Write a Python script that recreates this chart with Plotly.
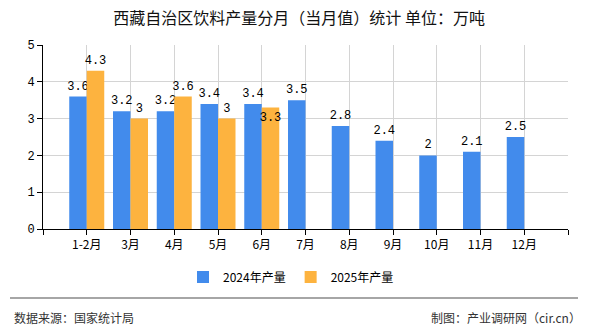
import plotly.graph_objects as go

categories = ["1-2月", "3月", "4月", "5月", "6月", "7月", "8月", "9月", "10月", "11月", "12月"]
values_2024 = [3.6, 3.2, 3.2, 3.4, 3.4, 3.5, 2.8, 2.4, 2, 2.1, 2.5]
values_2025 = [4.3, 3, 3.6, 3, 3.3, None, None, None, None, None, None]
series_names = ["2024年产量", "2025年产量"]
y_ticks = [0, 1, 2, 3, 4, 5]

BLUE = "#428bec"
ORANGE = "#fdb33f"
CJK = "Noto Sans CJK SC"
MONO = "Liberation Mono"

xpos = list(range(len(categories)))

def fmt(v):
    if v is None:
        return ""
    return ("%g" % v)

lab_font = dict(family=MONO, size=12, color="#000")

fig = go.Figure()
fig.add_trace(go.Bar(
    x=xpos, y=values_2024, name=series_names[0], marker=dict(color=BLUE, line=dict(width=0)),
    text=[fmt(v) for v in values_2024], textposition="outside", cliponaxis=False,
    textangle=0, constraintext="none",
    textfont=lab_font, outsidetextfont=lab_font,
))
pos_2025 = ["inside" if v is not None and i == 4 else "outside" for i, v in enumerate(values_2025)]
fig.add_trace(go.Bar(
    x=xpos, y=values_2025, name=series_names[1], marker=dict(color=ORANGE, line=dict(width=0)),
    text=[fmt(v) for v in values_2025], textposition=pos_2025, insidetextanchor="end",
    cliponaxis=False, textangle=0, constraintext="none",
    textfont=lab_font, insidetextfont=lab_font, outsidetextfont=lab_font,
))

tickvals = [-1] + xpos + [len(categories)]
ticktext = [""] + categories + [""]

fig.update_layout(
    width=590, height=330,
    margin=dict(l=43, r=22, t=45, b=101),
    paper_bgcolor="white", plot_bgcolor="white",
    barmode="group", bargap=0.2, bargroupgap=0,
    font=dict(family=CJK, size=12, color="#000"),
    title=dict(text="西藏自治区饮料产量分月（当月值）统计 单位：万吨", x=0.507, xanchor="center",
               y=1 - 18 / 330, yanchor="middle", font=dict(family=CJK, size=16, color="#111")),
    xaxis=dict(range=[-1, len(categories)], tickvals=tickvals, ticktext=ticktext,
               showgrid=True, gridcolor="#d4d4d4", gridwidth=1,
               showline=True, linecolor="#000", linewidth=1,
               ticks="outside", ticklen=5, tickcolor="#000",
               tickfont=dict(family=CJK, size=12, color="#000"), zeroline=False, fixedrange=True),
    yaxis=dict(range=[0, 5], tickvals=y_ticks, showgrid=True, gridcolor="#d4d4d4", gridwidth=1,
               showline=True, linecolor="#000", linewidth=1,
               ticks="outside", ticklen=5, tickcolor="#000",
               tickfont=dict(family=MONO, size=12, color="#000"), zeroline=False),
    legend=dict(orientation="h", x=(291 - 43) / 525, xanchor="center", y=-(277 - 229) / 184,
                yanchor="middle", font=dict(family=CJK, size=12, color="#000"), itemwidth=30),
    showlegend=True,
)

fig.add_shape(type="line", xref="paper", yref="paper", x0=-33/525, x1=535/525,
              y0=-(298 - 229) / 184, y1=-(298 - 229) / 184,
              line=dict(color="#888", width=1.5))
fig.add_annotation(text="数据来源：国家统计局", xref="paper", yref="paper",
                   x=-31/525, y=-(317 - 229) / 184, xanchor="left", yanchor="middle",
                   showarrow=False, font=dict(family=CJK, size=12, color="#333"))
fig.add_annotation(text="制图：产业调研网（cir.cn）", xref="paper", yref="paper",
                   x=540/525, y=-(317 - 229) / 184, xanchor="right", yanchor="middle",
                   showarrow=False, font=dict(family=CJK, size=12, color="#333"))

fig.write_html("out.html")
